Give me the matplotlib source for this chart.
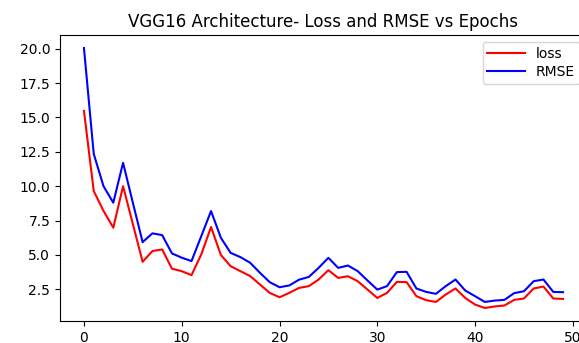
import matplotlib
matplotlib.use("Agg")
import matplotlib.pyplot as plt
import numpy as np

# training history, one value per epoch
epochs = np.arange(50)
loss = [15.48, 9.65, 8.2, 6.98, 10.0, 7.25, 4.5, 5.28, 5.4, 4.0,
        3.82, 3.53, 5.04, 7.03, 5.0, 4.18, 3.82, 3.46, 2.85, 2.24,
        1.92, 2.24, 2.6, 2.73, 3.21, 3.89, 3.33, 3.45, 3.09, 2.48,
        1.87, 2.24, 3.04, 3.02, 2.0, 1.71, 1.58, 2.12, 2.56, 1.87,
        1.39, 1.14, 1.25, 1.32, 1.73, 1.83, 2.56, 2.7, 1.83, 1.8]
rmse = [20.05, 12.35, 10.0, 8.8, 11.7, 8.8, 5.93, 6.57, 6.44, 5.11,
        4.8, 4.55, 6.37, 8.19, 6.25, 5.15, 4.84, 4.43, 3.7, 3.02,
        2.65, 2.78, 3.2, 3.4, 4.06, 4.79, 4.06, 4.23, 3.82, 3.14,
        2.48, 2.73, 3.75, 3.77, 2.56, 2.31, 2.17, 2.73, 3.21, 2.41,
        2.0, 1.58, 1.68, 1.73, 2.22, 2.36, 3.09, 3.21, 2.31, 2.29]

fig = plt.figure(figsize=(5.79, 3.43), dpi=100)
# axes run slightly past the right edge of the canvas
ax = fig.add_axes([60 / 579, 22 / 343, 527 / 579, 286 / 343])

ax.plot(epochs, loss, color="red", label="loss")
ax.plot(epochs, rmse, color="blue", label="RMSE")

ax.set_title("VGG16 Architecture- Loss and RMSE vs Epochs", fontsize=12)
ax.set_xticks([0, 10, 20, 30, 40, 50])
ax.set_yticks([2.5, 5.0, 7.5, 10.0, 12.5, 15.0, 17.5, 20.0])
ax.legend(loc="upper right", handlelength=2.7, labelspacing=0.3, borderpad=0.35)

fig.savefig("out.png", dpi=100)
